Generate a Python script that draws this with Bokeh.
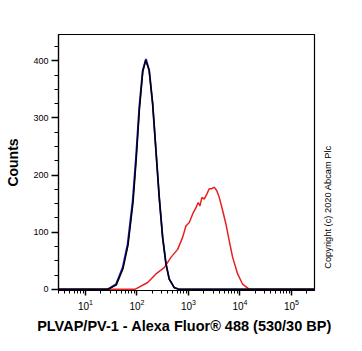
import math
from bokeh.plotting import figure
from bokeh.models import Range1d, FixedTicker, LinearAxis, LogTickFormatter
from bokeh.embed import file_html
from bokeh.resources import INLINE

# Isotype control (blue under black overlay)
blue_x = [3, 20, 27.0, 39.1, 52.7, 65.9, 82.6, 95.7, 110.9, 129.1, 149.6, 173.4, 201.8,
          233.9, 271.0, 315.5, 365.6, 423.6, 529.7, 662.2, 2.8e5]
blue_y = [0, 0, 0, 9, 38, 79, 155, 231, 319, 383, 403, 383, 325,
          243, 161, 91, 45, 18, 3, 0, 0]
black_x = [3, 20, 27.5, 40.0, 53.5, 67.0, 84.0, 97.0, 112.0, 130.0, 148.0, 172.0, 201.8,
           233.9, 271.0, 315.5, 365.6, 423.6, 529.7, 662.2, 2.8e5]
black_y = [0, 0, 0, 8, 36, 77, 152, 228, 316, 381, 401, 384, 325,
           243, 161, 91, 45, 18, 3, 0, 0]

# PLVAP/PV-1 stained sample (red)
red_x = [3, 91.4, 161.4, 233.9, 338.8, 457.1, 616.6, 770.9, 893.3, 1038, 1208, 1400, 1549,
         1671, 1828, 2028, 2286, 2535, 2818, 3170, 3532, 3963, 4613, 5346, 6194,
         7211, 9016, 11272, 15171, 2.8e5]
red_y = [0, 0, 12, 27, 38, 56, 70, 91, 111, 117, 132, 143, 152,
         146, 161, 158, 167, 176, 176, 179, 173, 161, 138, 114, 85,
         56, 27, 9, 0, 0]

y_ticks = [0, 100, 200, 300, 400]
y_minor = [25, 50, 75, 125, 150, 175, 225, 250, 275, 325, 350, 375, 425]
x_ticks = [10, 100, 1000, 10000, 100000]
x_minor = [m * 10 ** d for d in range(0, 6) for m in range(2, 10)]
copyright_text = "Copyright (c) 2020 Abcam Plc"

FONT = "Liberation Sans"

p = figure(width=362, height=351, x_axis_type="log",
           x_range=Range1d(3, 2.8e5), y_range=Range1d(-2, 446),
           output_backend="svg", toolbar_location=None,
           min_border_left=58, min_border_right=48, min_border_top=34, min_border_bottom=61)
p.background_fill_color = "white"
p.border_fill_color = "white"
p.outline_line_color = "black"
p.outline_line_width = 1.2
p.grid.visible = False

p.line(red_x, red_y, line_color="#e8201f", line_width=1.5)
p.line(blue_x, blue_y, line_color="#1a1acc", line_width=1.8)
p.line(black_x, black_y, line_color="black", line_width=1.5)

p.xaxis.ticker = FixedTicker(ticks=x_ticks, minor_ticks=x_minor)
p.xaxis.formatter = LogTickFormatter()
p.yaxis.ticker = FixedTicker(ticks=y_ticks, minor_ticks=y_minor)

for ax in (p.xaxis[0], p.yaxis[0]):
    ax.axis_line_color = "black"
    ax.axis_line_width = 1.2
    ax.major_tick_line_color = "black"
    ax.minor_tick_line_color = "black"
    ax.major_tick_line_width = 1.5
    ax.minor_tick_line_width = 1
    ax.major_tick_in = 0
    ax.minor_tick_in = 0
    ax.major_label_text_font = FONT
    ax.major_label_text_font_size = "10px"
    ax.major_label_text_color = "black"
    ax.axis_label_text_font = FONT
    ax.axis_label_text_font_style = "bold"
    ax.axis_label_text_font_size = "14px"
    ax.axis_label_text_color = "black"

p.yaxis.major_label_text_font_size = "9px"
p.yaxis.major_tick_out = 7
p.yaxis.minor_tick_out = 4
p.yaxis.major_label_standoff = 3
p.yaxis.axis_label = "Counts"
p.yaxis.axis_label_standoff = 9

p.xaxis.major_tick_out = 5
p.xaxis.minor_tick_out = 3
p.xaxis.major_label_standoff = 3
p.xaxis.axis_label = "PLVAP/PV-1 - Alexa Fluor® 488  (530/30 BP)"
p.xaxis.axis_label_text_font_size = "14.5px"
p.xaxis.axis_label_standoff = 5

# Copyright note as a rotated label on a bare right-hand axis
cax = LinearAxis(ticker=FixedTicker(ticks=[36]),
                 major_label_overrides={36: copyright_text},
                 major_label_orientation=math.pi / 2,
                 axis_line_color=None, major_tick_line_color=None, minor_tick_line_color=None,
                 major_label_standoff=8,
                 major_label_text_font=FONT, major_label_text_font_size="9.3px",
                 major_label_text_color="black")
p.add_layout(cax, "right")

open("out.html", "w").write(file_html(p, INLINE))
